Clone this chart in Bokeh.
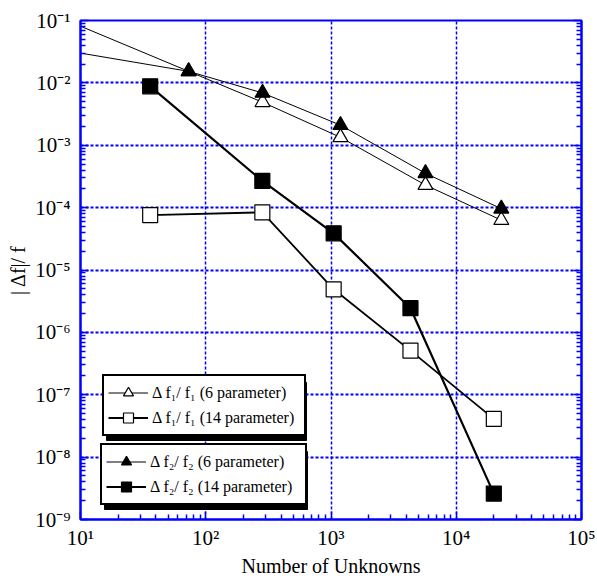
from bokeh.plotting import figure
from bokeh.models import (FixedTicker, LogAxis, Legend, LegendItem, BoxAnnotation)
from bokeh.embed import file_html
from bokeh.resources import INLINE

# ---- data ----
n_6 = [5, 73, 284, 1190, 5680, 22900]
err_f1_6 = [0.145, 1.53e-2, 4.9e-3, 1.34e-3, 2.3e-4, 6.3e-5]
err_f2_6 = [0.038, 1.53e-2, 6.9e-3, 2.1e-3, 3.55e-4, 9.6e-5]
n_14 = [36, 283, 1050, 4310, 19950]
err_f1_14 = [7.6e-5, 8.4e-5, 4.9e-6, 5.1e-7, 4.1e-8]
err_f2_14 = [8.8e-3, 2.68e-4, 3.87e-5, 2.44e-6, 2.6e-9]

x_major = [10, 100, 1000, 10000, 100000]
x_labels = ["10\u00b9", "10\u00b2", "10\u00b3", "10\u2074", "10\u2075"]
y_major = [1e-9, 1e-8, 1e-7, 1e-6, 1e-5, 1e-4, 1e-3, 1e-2, 1e-1]
y_labels = ["10\u207b\u2079", "10\u207b\u2078", "10\u207b\u2077", "10\u207b\u2076",
            "10\u207b\u2075", "10\u207b\u2074", "10\u207b\u00b3", "10\u207b\u00b2",
            "10\u207b\u00b9"]

lab_f1_6 = "\u0394 f\u2081/ f\u2081 (6 parameter)"
lab_f1_14 = "\u0394 f\u2081/ f\u2081 (14 parameter)"
lab_f2_6 = "\u0394 f\u2082/ f\u2082 (6 parameter)"
lab_f2_14 = "\u0394 f\u2082/ f\u2082 (14 parameter)"

FONT = "Liberation Serif"
BLUE = "#0000ff"

p = figure(width=597, height=579, x_axis_type="log", y_axis_type="log",
           x_range=(10, 1e5), y_range=(1e-9, 1e-1),
           output_backend="svg", toolbar_location=None,
           min_border_left=80, min_border_right=16, min_border_top=20,
           min_border_bottom=59)
p.background_fill_color = "white"
p.outline_line_color = BLUE
p.outline_line_width = 2

def minors(decades):
    out = []
    for d in decades:
        for k in range(2, 10):
            out.append(k * d)
    return out

p.xaxis.ticker = FixedTicker(ticks=x_major, minor_ticks=minors(x_major[:-1]))
p.yaxis.ticker = FixedTicker(ticks=y_major, minor_ticks=minors(y_major[:-1]))
p.xaxis.major_label_overrides = dict(zip(x_major, x_labels))
p.yaxis.major_label_overrides = dict(zip(y_major, y_labels))

for ax in (p.xaxis, p.yaxis):
    ax.axis_line_color = BLUE
    ax.axis_line_width = 2
    ax.major_tick_line_color = BLUE
    ax.minor_tick_line_color = BLUE
    ax.major_tick_line_width = 1.5
    ax.minor_tick_line_width = 1.5
    ax.major_tick_in = 8
    ax.major_tick_out = 0
    ax.minor_tick_in = 5
    ax.minor_tick_out = 0
    ax.major_label_text_font = FONT
    ax.major_label_text_font_size = "21px"
    ax.major_label_text_color = "black"
    ax.axis_label_text_font = FONT
    ax.axis_label_text_font_size = "20px"
    ax.axis_label_text_font_style = "normal"
    ax.axis_label_text_color = "black"

p.xaxis.axis_label = "Number of Unknowns"
p.yaxis.axis_label = "| \u0394f|/ f"
p.xaxis.major_label_standoff = 6
p.xaxis.axis_label_standoff = 2
p.yaxis.major_label_standoff = 10
p.yaxis.axis_label_standoff = 3

right = LogAxis(ticker=FixedTicker(ticks=y_major, minor_ticks=minors(y_major[:-1])),
                axis_line_color=BLUE, axis_line_width=2,
                major_tick_line_color=BLUE, minor_tick_line_color=BLUE,
                major_tick_line_width=1.5, minor_tick_line_width=1.5,
                major_tick_in=8, major_tick_out=0, minor_tick_in=5, minor_tick_out=0,
                major_label_text_font_size="2px", major_label_standoff=0,
                major_label_overrides={t: "" for t in y_major})
p.add_layout(right, "right")

p.xgrid.grid_line_color = BLUE
p.xgrid.grid_line_dash = "3 2"
p.xgrid.grid_line_width = 1.5
p.ygrid.grid_line_color = BLUE
p.ygrid.grid_line_dash = "3 2"
p.ygrid.grid_line_width = 2

# ---- series ----
l1 = p.line(n_6, err_f1_6, line_color="black", line_width=1)
l2 = p.line(n_6, err_f2_6, line_color="black", line_width=1)
l3 = p.line(n_14, err_f1_14, line_color="black", line_width=1.8)
l4 = p.line(n_14, err_f2_14, line_color="black", line_width=2.2)

m1 = p.scatter(n_6, err_f1_6, marker="triangle", size=15, fill_color="white",
               line_color="black", line_width=1.2)
m2 = p.scatter(n_6, err_f2_6, marker="triangle", size=15, fill_color="black",
               line_color="black", line_width=1.2)
m3 = p.scatter(n_14, err_f1_14, marker="square", size=15, fill_color="white",
               line_color="black", line_width=1.2)
m4 = p.scatter(n_14, err_f2_14, marker="square", size=15, fill_color="black",
               line_color="black", line_width=1.2)

# ---- legends with drop shadows ----
PAD, GW, GH, STAND = 4, 40, 25, 4
LH = 2 * GH + 2 * PAD

def shadow(vx, vy, w):
    return BoxAnnotation(left=vx + 4, right=vx + w + 4, bottom=vy - 4, top=vy + LH - 4,
                         left_units="screen", right_units="screen",
                         bottom_units="screen", top_units="screen",
                         fill_color="black", fill_alpha=1, line_color="black",
                         line_alpha=1, level="underlay")

def make_legend(items, loc, w):
    return Legend(items=items, location=loc, margin=0, padding=PAD, spacing=0,
                  glyph_width=GW, glyph_height=GH, label_standoff=STAND,
                  label_width=w - 2 * PAD - GW - STAND,
                  label_text_font=FONT, label_text_font_size="16px",
                  label_text_color="black",
                  border_line_color="black", border_line_width=2,
                  border_line_alpha=1,
                  background_fill_color="white", background_fill_alpha=1)

W1, W2 = 200, 203
p.add_layout(shadow(22, 83, W1))
p.add_layout(shadow(20, 14, W2))
leg1 = make_legend([LegendItem(label=lab_f1_6, renderers=[l1, m1]),
                    LegendItem(label=lab_f1_14, renderers=[l3, m3])], (22, 83), W1)
leg2 = make_legend([LegendItem(label=lab_f2_6, renderers=[l2, m2]),
                    LegendItem(label=lab_f2_14, renderers=[l4, m4])], (20, 14), W2)
p.add_layout(leg1)
p.add_layout(leg2)

open("out.html", "w").write(file_html(p, INLINE))
